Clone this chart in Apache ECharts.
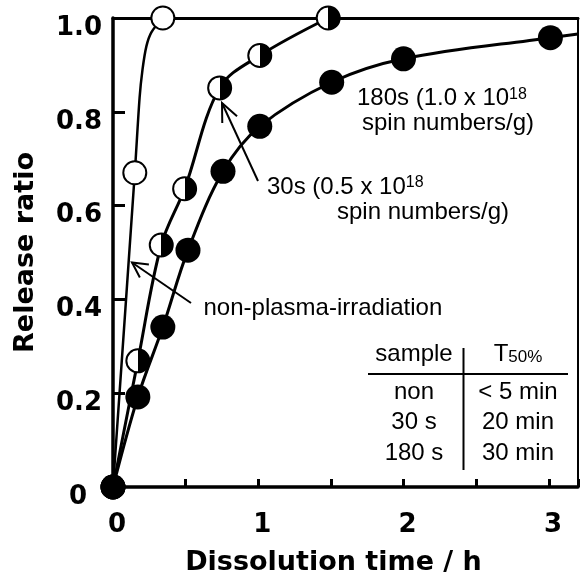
<!DOCTYPE html>
<html>
<head>
<meta charset="utf-8">
<script src="https://cdn.jsdelivr.net/npm/echarts@6/dist/echarts.min.js"></script>
<style>
html,body{margin:0;padding:0;background:#fff;}
#c{width:582px;height:574px;}
</style>
</head>
<body>
<div id="c"></div>
<script>
// ---- data ----
const nonX  = [0, 0.15, 0.343];
const nonY  = [0, 0.67, 1.0];
const s30X  = [0, 0.171, 0.332, 0.493, 0.734, 1.01, 1.481];
const s30Y  = [0, 0.269, 0.516, 0.636, 0.851, 0.92, 1.0];
const s180X = [0, 0.171, 0.343, 0.516, 0.757, 1.01, 1.505, 1.999, 3.01];
const s180Y = [0, 0.192, 0.341, 0.505, 0.673, 0.769, 0.863, 0.913, 0.958];
// fitted curves
const nonCurveX  = [0, 0.15, 0.183, 0.203, 0.23, 0.265, 0.343];
const nonCurveY  = [0, 0.67, 0.83, 0.89, 0.94, 0.97, 1.0];
const s30CurveX  = s30X.slice();
const s30CurveY  = s30Y.slice();
const s180CurveX = s180X.concat([3.2]);
const s180CurveY = s180Y.concat([0.966]);
// tick labels
const xTickLabels = ['0', '1', '2', '3'];
const yTickLabels = ['0', '0.2', '0.4', '0.6', '0.8', '1.0'];
// table
const tableSamples = ['non', '30 s', '180 s'];
const tableT50 = ['< 5 min', '20 min', '30 min'];

const zip = (xs, ys) => xs.map((x, i) => [x, ys[i]]);

const BOLD = 'DejaVu Sans';
const REG = '"Liberation Sans", Arial, sans-serif';

const chart = echarts.init(document.getElementById('c'), null, {renderer: 'canvas'});

const half = new echarts.graphic.LinearGradient(0, 0, 1, 0, [
  {offset: 0, color: '#fff'}, {offset: 0.5, color: '#fff'},
  {offset: 0.5, color: '#000'}, {offset: 1, color: '#000'}
]);

function txt(x, y, text, align, extra) {
  return Object.assign({
    type: 'text', x: x, y: y, z: 100,
    style: Object.assign({
      text: text, fill: '#000',
      font: '24px ' + REG,
      fontSize: 24, fontFamily: REG,
      textAlign: align || 'left', align: align || 'left',
      textVerticalAlign: 'middle', verticalAlign: 'middle'
    }, extra || {})
  });
}
function seg(x1, y1, x2, y2, w) {
  return {type: 'line', z: 100, shape: {x1: x1, y1: y1, x2: x2, y2: y2},
          style: {stroke: '#000', lineWidth: w || 2}};
}
function arrow(tipX, tipY, tailX, tailY, len, angDeg) {
  const dx = tailX - tipX, dy = tailY - tipY;
  const L = Math.sqrt(dx * dx + dy * dy);
  const ux = dx / L, uy = dy / L;
  const a = angDeg * Math.PI / 180;
  const r = (s) => [tipX + len * (ux * Math.cos(s * a) - uy * Math.sin(s * a)),
                    tipY + len * (ux * Math.sin(s * a) + uy * Math.cos(s * a))];
  return [
    seg(tailX, tailY, tipX, tipY, 2),
    {type: 'polyline', z: 100, shape: {points: [r(1), [tipX, tipY], r(-1)]},
     style: {stroke: '#000', lineWidth: 2, fill: null}}
  ];
}

const richMain = {a: {fontSize: 24, fontFamily: REG, fill: '#000', color: '#000'},
                  s: {fontSize: 16, fontFamily: REG, fill: '#000', color: '#000', verticalAlign: 'top'}};

const graphics = [].concat(
  // 180s label
  [txt(357, 98.5, '{a|180s (1.0 x 10}{s|18}', 'left', {rich: richMain}),
   txt(362, 123, 'spin numbers/g)', 'left')],
  // 30s label + arrow
  [txt(267, 187, '{a|30s (0.5 x 10}{s|18}', 'left', {rich: richMain}),
   txt(337, 212, 'spin numbers/g)', 'left')],
  arrow(222, 103, 258, 181, 20, 24),
  // non-plasma label + arrow
  [txt(203.5, 308, 'non-plasma-irradiation', 'left')],
  arrow(132, 262.5, 191, 303, 17, 28),
  // table
  [txt(414, 354, 'sample', 'center'),
   txt(518, 354, '{t|T}{b|50%}', 'center', {rich: {
      t: {fontSize: 24, fontFamily: REG, fill: '#000', color: '#000'},
      b: {fontSize: 17, fontFamily: REG, fill: '#000', color: '#000', verticalAlign: 'bottom'}}}),
   seg(368, 374, 568, 374, 2),
   seg(463.5, 348, 463.5, 470, 2)],
  tableSamples.map((s, i) => txt(414, 392 + i * 30.5, s, 'center')),
  tableT50.map((s, i) => txt(518, 392 + i * 30.5, s, 'center'))
);

const option = {
  animation: false,
  backgroundColor: '#fff',
  grid: {left: 113, right: 4, top: 18, bottom: 87, containLabel: false, outerBoundsMode: 'none'},
  xAxis: [{
    type: 'value', min: 0, max: 3.2, interval: 0.5,
    axisLine: {show: true, onZero: false, lineStyle: {color: '#000', width: 3.5}},
    axisTick: {show: true, inside: true, length: 8, lineStyle: {color: '#000', width: 3}},
    splitLine: {show: false},
    axisLabel: {
      formatter: (v) => (Number.isInteger(v) && xTickLabels.indexOf(String(v)) >= 0) ? String(v) : '',
      fontFamily: BOLD, fontWeight: 'bold', fontSize: 26, color: '#000',
      margin: 25, padding: [0, 0, 0, 8]
    },
    name: 'Dissolution time / h', nameLocation: 'middle', nameGap: 62,
    nameTextStyle: {fontFamily: BOLD, fontWeight: 'bold', fontSize: 27, color: '#000',
                    padding: [0, 24, 0, 0]}
  }, {
    type: 'value', position: 'top', min: 0, max: 3.2,
    axisLine: {show: true, onZero: false, lineStyle: {color: '#000', width: 3}},
    axisTick: {show: false}, axisLabel: {show: false}, splitLine: {show: false}
  }],
  yAxis: [{
    type: 'value', min: 0, max: 1, interval: 0.2,
    axisLine: {show: true, onZero: false, lineStyle: {color: '#000', width: 3.5}},
    axisTick: {show: true, inside: true, length: 12, lineStyle: {color: '#000', width: 3}},
    splitLine: {show: false},
    axisLabel: {
      formatter: (v) => {
        const i = Math.round(v / 0.2);
        const s = yTickLabels[i] || '';
        return i === 0 ? '{z|' + s + '}' : s;
      },
      fontFamily: BOLD, fontWeight: 'bold', fontSize: 26, color: '#000',
      margin: 11, padding: [20, 0, 0, 0],
      rich: {z: {fontFamily: BOLD, fontWeight: 'bold', fontSize: 26, color: '#000', padding: [0, 15, 0, 0]}}
    },
    name: 'Release ratio', nameLocation: 'middle', nameGap: 74,
    nameTextStyle: {fontFamily: BOLD, fontWeight: 'bold', fontSize: 27, color: '#000'}
  }, {
    type: 'value', position: 'right', min: 0, max: 1,
    axisLine: {show: true, onZero: false, lineStyle: {color: '#000', width: 2}},
    axisTick: {show: false}, axisLabel: {show: false}, splitLine: {show: false}
  }],
  series: [
    {type: 'line', name: 'non curve', data: zip(nonCurveX, nonCurveY), symbol: 'none',
     smooth: 0.3, lineStyle: {color: '#000', width: 2.5}, z: 2, clip: false},
    {type: 'line', name: '30s curve', data: zip(s30CurveX, s30CurveY), symbol: 'none',
     smooth: 0.35, lineStyle: {color: '#000', width: 3}, z: 2, clip: false},
    {type: 'line', name: '180s curve', data: zip(s180CurveX, s180CurveY), symbol: 'none',
     smooth: 0.35, lineStyle: {color: '#000', width: 3}, z: 2, clip: false},
    {type: 'scatter', name: 'non-plasma-irradiation', data: zip(nonX, nonY), symbol: 'circle',
     symbolSize: 23, itemStyle: {color: '#fff', borderColor: '#000', borderWidth: 2, opacity: 1},
     z: 3, clip: false},
    {type: 'scatter', name: '30s', data: zip(s30X, s30Y), symbol: 'circle',
     symbolSize: 23, itemStyle: {color: half, borderColor: '#000', borderWidth: 2, opacity: 1},
     z: 4, clip: false},
    {type: 'scatter', name: '180s', data: zip(s180X, s180Y), symbol: 'circle',
     symbolSize: 25, itemStyle: {color: '#000', borderColor: '#000', borderWidth: 0, opacity: 1},
     z: 5, clip: false}
  ],
  graphic: graphics
};
chart.setOption(option);
</script>
</body>
</html>
